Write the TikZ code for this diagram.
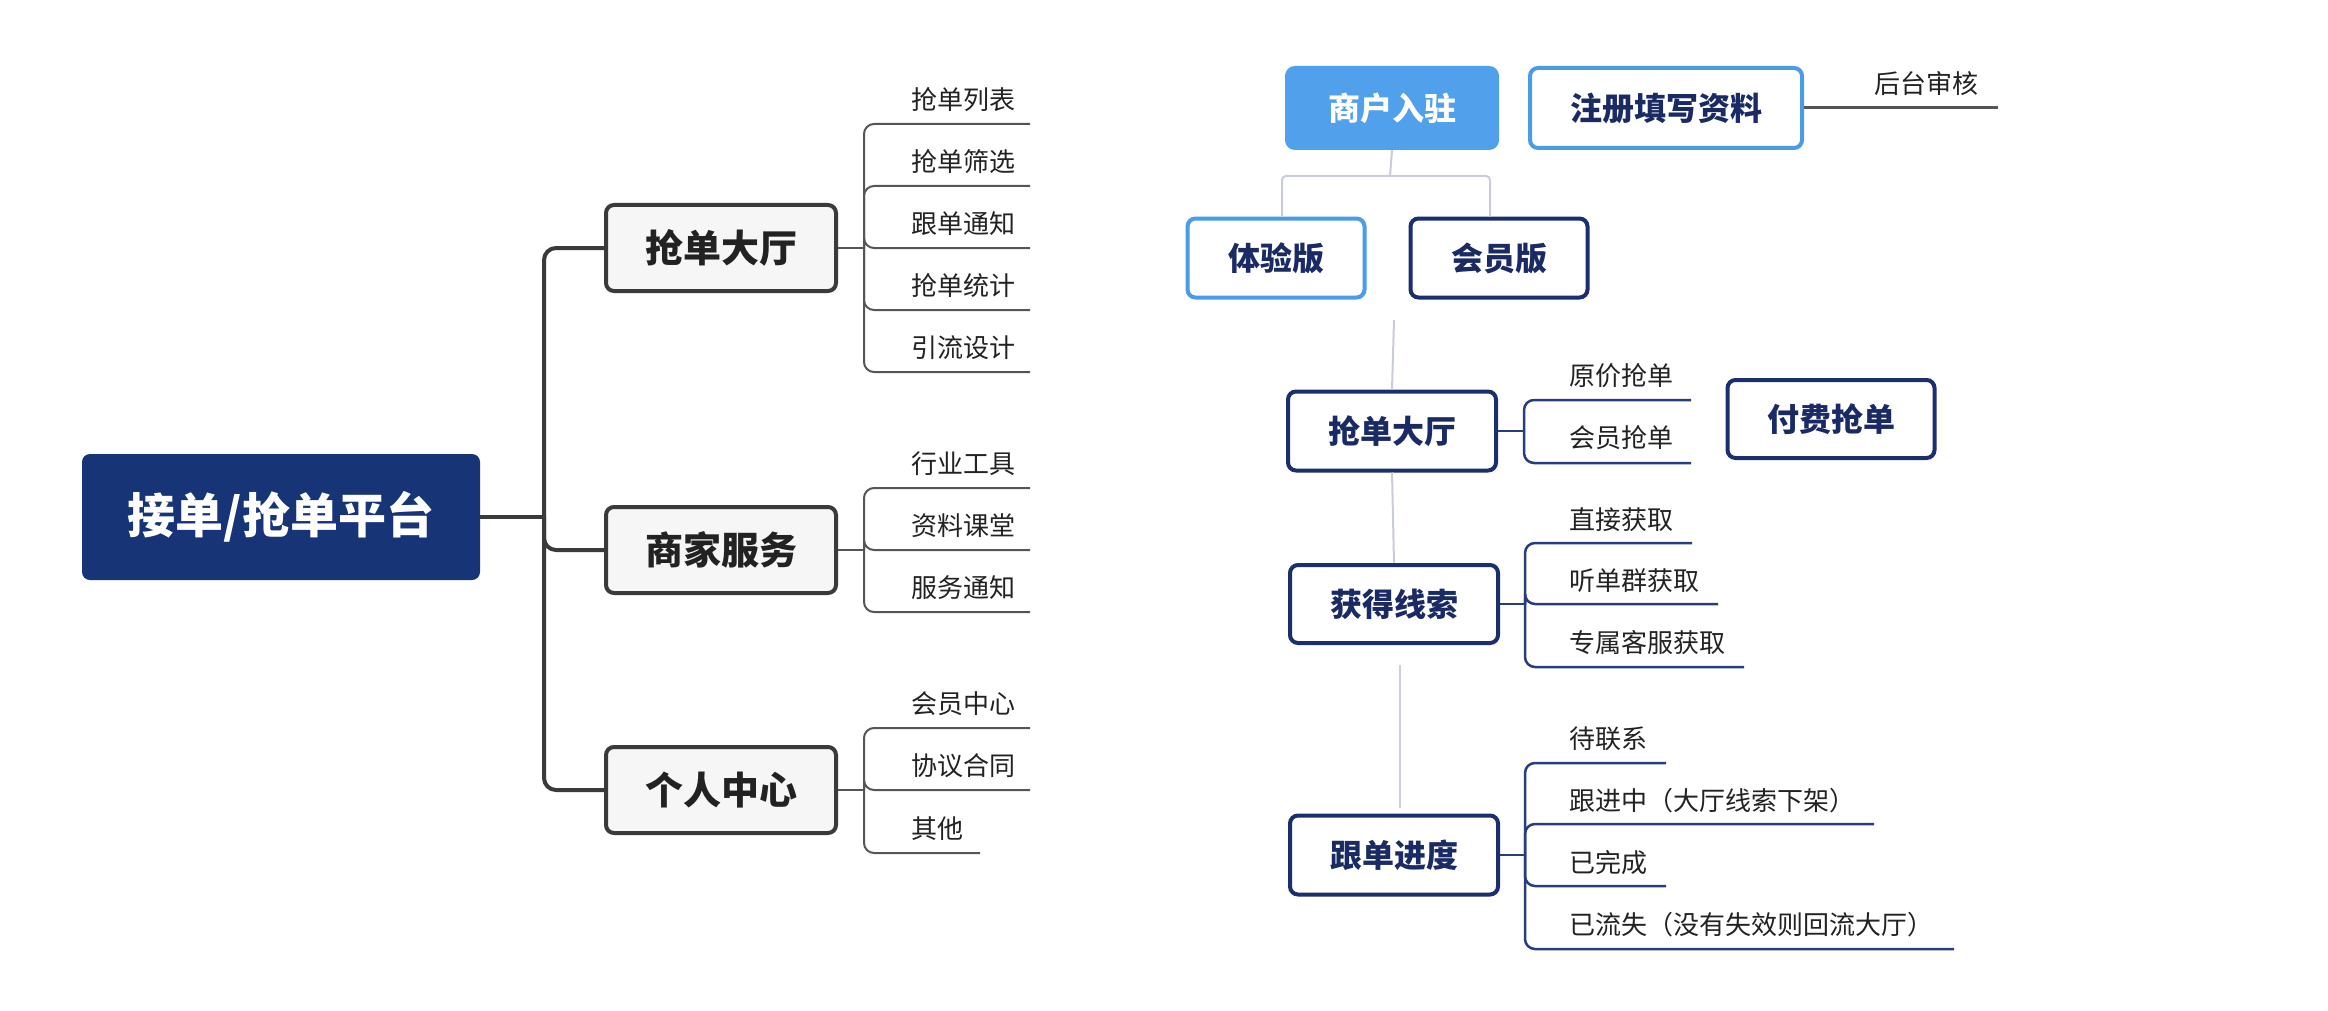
\documentclass[tikz,border=0pt]{standalone}
\usepackage{fontspec}
\setmainfont{Noto Sans CJK SC}
\definecolor{navyfill}{RGB}{22,52,118}
\definecolor{lboxdraw}{RGB}{58,58,58}
\definecolor{lboxfill}{RGB}{246,246,246}
\definecolor{leafgray}{RGB}{85,85,85}
\definecolor{skyfill}{RGB}{80,160,236}
\definecolor{skydraw}{RGB}{74,155,232}
\definecolor{navydraw}{RGB}{27,46,110}
\definecolor{navytext}{RGB}{26,42,100}
\definecolor{navyline}{RGB}{40,60,130}
\definecolor{faintline}{RGB}{200,204,220}
\definecolor{txt}{RGB}{34,34,34}
\begin{document}
\begin{tikzpicture}[x=1pt,y=-1pt,
  rootbox/.style={fill=navyfill, rounded corners=8pt, minimum width=398pt, minimum height=126pt, inner sep=0pt, text=white, font=\bfseries\fontsize{48}{48}\selectfont},
  lbox/.style={draw=lboxdraw, fill=lboxfill, line width=4pt, rounded corners=8pt, minimum width=230pt, minimum height=86pt, inner sep=0pt, text=txt, font=\bfseries\fontsize{38}{38}\selectfont},
  trunk/.style={draw=lboxdraw, line width=4pt, rounded corners=12pt},
  leafL/.style={draw=leafgray, line width=2pt, rounded corners=10pt},
  leaftext/.style={anchor=west, inner sep=0pt, text=txt, font=\fontsize{26}{26}\selectfont},
  rbox/.style={fill=white, line width=4pt, rounded corners=8pt, inner sep=0pt, minimum height=79pt, text=navytext, font=\bfseries\fontsize{32}{32}\selectfont},
  navybox/.style={rbox, draw=navydraw},
  skybox/.style={rbox, draw=skydraw},
  filledbox/.style={rbox, fill=skyfill, draw=skyfill, text=white},
  leafR/.style={draw=navyline, line width=2.5pt, rounded corners=10pt},
  faint/.style={draw=faintline, line width=2pt, rounded corners=4pt},
  grayline/.style={draw=leafgray, line width=3pt}
]
\useasboundingbox (0,0) rectangle (2328,1011);

% ---------- left mind map ----------
\node[rootbox] (root) at (281,517) {接单/抢单平台};
\node[lbox] (h1) at (721,248) {抢单大厅};
\node[lbox] (h2) at (721,550) {商家服务};
\node[lbox] (h3) at (721,790) {个人中心};
\coordinate (tr) at (544,517);
\draw[trunk] (root.east) -- (tr);
\draw[trunk] (tr) |- (h1.west);
\draw[trunk] (tr) |- (h2.west);
\draw[trunk] (tr) |- (h3.west);

% leaves of h1
\coordinate (s1) at (864,248);
\draw[leafL] (h1.east) -- (s1);
\node[leaftext] (a1) at (911,100) {抢单列表};
\node[leaftext] (a2) at (911,162) {抢单筛选};
\node[leaftext] (a3) at (911,224) {跟单通知};
\node[leaftext] (a4) at (911,286) {抢单统计};
\node[leaftext] (a5) at (911,348) {引流设计};
\coordinate (a1e) at (1030,124);
\coordinate (a2e) at (1030,186);
\coordinate (a3e) at (1030,248);
\coordinate (a4e) at (1030,310);
\coordinate (a5e) at (1030,372);
\foreach \e in {a1e,a2e,a3e,a4e,a5e} \draw[leafL] (s1) |- (\e);

% leaves of h2
\coordinate (s2) at (864,550);
\draw[leafL] (h2.east) -- (s2);
\node[leaftext] (b1) at (911,464) {行业工具};
\node[leaftext] (b2) at (911,526) {资料课堂};
\node[leaftext] (b3) at (911,588) {服务通知};
\coordinate (b1e) at (1030,488);
\coordinate (b2e) at (1030,550);
\coordinate (b3e) at (1030,612);
\foreach \e in {b1e,b2e,b3e} \draw[leafL] (s2) |- (\e);

% leaves of h3
\coordinate (s3) at (864,790);
\draw[leafL] (h3.east) -- (s3);
\node[leaftext] (c1) at (911,704) {会员中心};
\node[leaftext] (c2) at (911,766) {协议合同};
\node[leaftext] (c3) at (911,829) {其他};
\coordinate (c1e) at (1030,728);
\coordinate (c2e) at (1030,790);
\coordinate (c3e) at (980,853);
\foreach \e in {c1e,c2e,c3e} \draw[leafL] (s3) |- (\e);

% ---------- right flow ----------
\node[filledbox, minimum width=210pt, minimum height=80pt] (mr) at (1392,108) {商户入驻};
\node[skybox, minimum width=272pt, minimum height=80pt] (zc) at (1666,108) {注册填写资料};
\coordinate (hte) at (1998,108);
\draw[grayline] (zc.east) -- (hte);
\node[leaftext] (ht) at (1874,84) {后台审核};

\node[skybox, minimum width=177pt] (ty) at (1276,258) {体验版};
\node[navybox, minimum width=177pt] (hy) at (1499,258) {会员版};
\coordinate (mj) at (1390,176);
\draw[faint] (mr.south) -- (mj);
\draw[faint] ([xshift=6pt]ty.north) |- (mj);
\draw[faint] ([xshift=-9pt]hy.north) |- (mj);

\node[navybox, minimum width=208pt] (qd) at (1392,431) {抢单大厅};
\node[navybox, minimum width=207pt, minimum height=78pt] (ff) at (1831,419) {付费抢单};
\node[navybox, minimum width=208pt, minimum height=78pt] (hd) at (1394,604) {获得线索};
\node[navybox, minimum width=208pt] (gd) at (1394,855) {跟单进度};

\coordinate (f1a) at (1394,320);
\draw[faint] (f1a) -- (qd.north);
\draw[faint] (qd.south) -- (hd.north);
\coordinate (f3a) at (1400,665);
\coordinate (f3b) at (1400,808);
\draw[faint] (f3a) -- (f3b);

% leaves of qd
\coordinate (r1) at (1524,431);
\draw[leafR] (qd.east) -- (r1);
\node[leaftext] (d1) at (1569,376) {原价抢单};
\node[leaftext] (d2) at (1569,438) {会员抢单};
\coordinate (d1e) at (1691,400);
\coordinate (d2e) at (1691,463);
\foreach \e in {d1e,d2e} \draw[leafR] (r1) |- (\e);

% leaves of hd
\coordinate (r2) at (1525,604);
\draw[leafR] (hd.east) -- (r2);
\node[leaftext] (e1) at (1569,520) {直接获取};
\node[leaftext] (e2) at (1569,581) {听单群获取};
\node[leaftext] (e3) at (1569,643) {专属客服获取};
\coordinate (e1e) at (1692,543);
\coordinate (e2e) at (1718,604);
\coordinate (e3e) at (1744,667);
\foreach \e in {e1e,e2e,e3e} \draw[leafR] (r2) |- (\e);

% leaves of gd
\coordinate (r3) at (1525,855);
\draw[leafR] (gd.east) -- (r3);
\node[leaftext] (g1) at (1569,739) {待联系};
\node[leaftext] (g2) at (1569,801) {跟进中（大厅线索下架）};
\node[leaftext] (g3) at (1569,863) {已完成};
\node[leaftext] (g4) at (1569,925) {已流失（没有失效则回流大厅）};
\coordinate (g1e) at (1666,763);
\coordinate (g2e) at (1874,824);
\coordinate (g3e) at (1666,886);
\coordinate (g4e) at (1954,949);
\foreach \e in {g1e,g2e,g3e,g4e} \draw[leafR] (r3) |- (\e);
\end{tikzpicture}
\end{document}
